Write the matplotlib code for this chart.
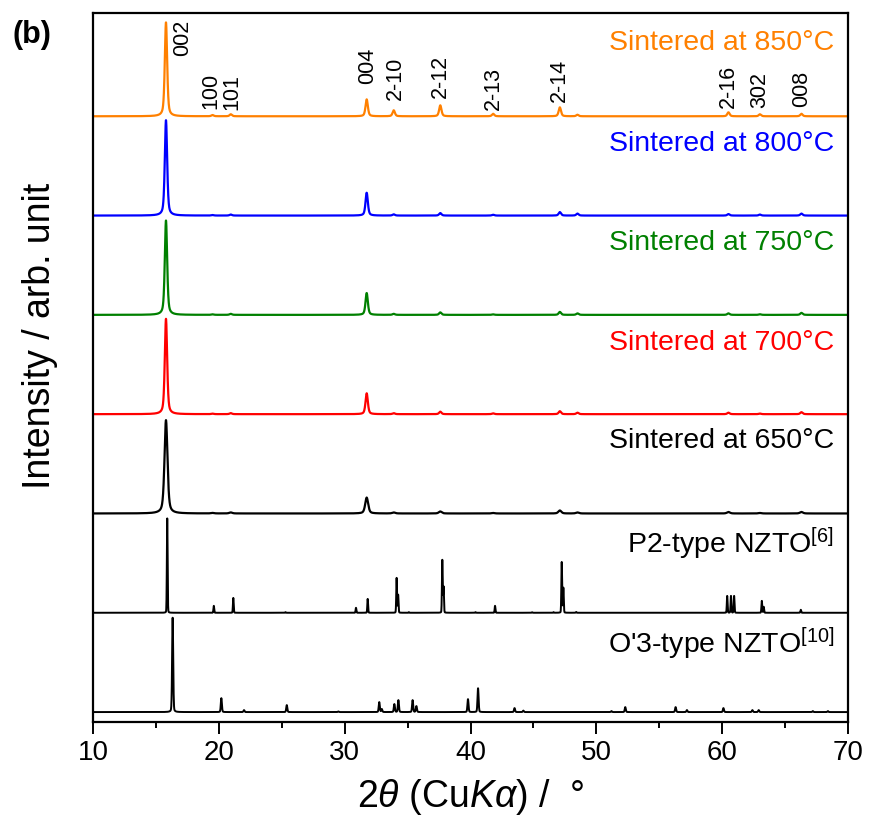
import numpy as np
import matplotlib.pyplot as plt
from matplotlib.ticker import MultipleLocator

plt.rcParams['font.family'] = ['Liberation Sans', 'DejaVu Sans']
plt.rcParams['mathtext.fontset'] = 'custom'
plt.rcParams['mathtext.rm'] = 'Liberation Sans'
plt.rcParams['mathtext.it'] = 'Liberation Sans:italic'

# measured peaks of the sintered samples (2theta, relative height per trace)
pk_pos = [15.8, 19.5, 20.95, 31.75, 33.9, 37.6, 41.8, 47.1, 48.5, 60.5, 63.0, 66.3]
h_850 = [0.945, 0.012, 0.02, 0.17, 0.06, 0.11, 0.025, 0.09, 0.015, 0.04, 0.02, 0.025]
h_800 = [0.96, 0.005, 0.01, 0.23, 0.012, 0.025, 0.008, 0.035, 0.02, 0.015, 0.01, 0.02]
h_750 = [0.95, 0.005, 0.01, 0.22, 0.01, 0.025, 0.005, 0.03, 0.015, 0.015, 0.006, 0.02]
h_700 = [0.96, 0.005, 0.01, 0.21, 0.01, 0.025, 0.008, 0.03, 0.015, 0.015, 0.006, 0.02]
h_650 = [0.94, 0.005, 0.01, 0.16, 0.01, 0.02, 0.005, 0.03, 0.01, 0.015, 0.005, 0.015]

# reference patterns
p2_pos = [15.9, 19.6, 21.15, 25.3, 30.9, 31.83, 34.13, 34.25, 35.1, 37.76, 37.86, 40.4,
          41.95, 44.9, 46.6, 47.25, 47.38, 48.4, 60.4, 60.7, 60.95, 63.15, 63.3, 66.25]
p2_h = [0.95, 0.07, 0.15, 0.006, 0.05, 0.14, 0.35, 0.18, 0.006, 0.53, 0.26, 0.006,
        0.07, 0.005, 0.006, 0.51, 0.25, 0.008, 0.17, 0.17, 0.17, 0.12, 0.06, 0.03]
o3_pos = [16.33, 20.2, 22.0, 25.4, 29.5, 32.75, 32.95, 33.95, 34.27, 35.4, 35.7, 39.8,
          40.6, 43.5, 44.2, 51.2, 52.3, 56.3, 57.2, 60.1, 62.4, 62.9, 67.2, 68.4]
o3_h = [0.95, 0.14, 0.02, 0.07, 0.006, 0.10, 0.03, 0.08, 0.12, 0.12, 0.06, 0.13,
        0.24, 0.04, 0.015, 0.01, 0.05, 0.05, 0.02, 0.04, 0.02, 0.02, 0.01, 0.01]

labels = ["O'3-type NZTO$^{\\mathrm{[10]}}$", 'P2-type NZTO$^{\\mathrm{[6]}}$',
          'Sintered at 650°C', 'Sintered at 700°C', 'Sintered at 750°C',
          'Sintered at 800°C', 'Sintered at 850°C']
colors = ['black', 'black', 'black', '#FF0000', '#008000', '#0000FF', '#FF8000']
label_dy = [0.69, 0.70, 0.73, 0.72, 0.72, 0.72, 0.74]

hkl = ['002', '100', '101', '004', '2-10', '2-12', '2-13', '2-14', '2-16', '302', '008']
hkl_x = [17.15, 19.4, 21.0, 31.8, 34.0, 37.6, 41.8, 47.1, 60.5, 63.0, 66.35]
hkl_y = [6.61, 6.07, 6.06, 6.33, 6.16, 6.18, 6.06, 6.14, 6.08, 6.08, 6.09]

x = np.arange(10, 70.001, 0.01)


def pattern(pos, h, fwhm, eta=0.5):
    y = np.zeros_like(x)
    for p, a in zip(pos, h):
        d = (x - p) / (fwhm / 2)
        y += a * (eta / (1 + d ** 2) + (1 - eta) * np.exp(-np.log(2) * d ** 2))
    return y


traces = [pattern(o3_pos, o3_h, 0.1, 0.2), pattern(p2_pos, p2_h, 0.07, 0.1),
          pattern(pk_pos, h_650, 0.28), pattern(pk_pos, h_700, 0.22),
          pattern(pk_pos, h_750, 0.22), pattern(pk_pos, h_800, 0.22),
          pattern(pk_pos, h_850, 0.22)]

fig = plt.figure(figsize=(8.74, 8.24), dpi=100)
ax = fig.add_axes([93 / 874, 1 - 722 / 824, 755 / 874, 709 / 824])

for i, (tr, lab, c) in enumerate(zip(traces, labels, colors)):
    ax.plot(x, tr + i, color=c, lw=1.6 if i > 1 else 1.4)
    ax.text(68.9, i + label_dy[i], lab, color=c, fontsize=20.5, ha='right', va='center')

for t, px, py in zip(hkl, hkl_x, hkl_y):
    ax.text(px, py, t, rotation=90, fontsize=15.5, ha='center', va='bottom')

ax.set_xlim(10, 70)
ax.set_ylim(-0.1, 7.04)
ax.set_yticks([])
ax.xaxis.set_major_locator(MultipleLocator(10))
ax.xaxis.set_minor_locator(MultipleLocator(5))
ax.tick_params(axis='x', which='major', direction='out', length=8.5, width=1.4,
               labelsize=20, pad=4.5)
ax.tick_params(axis='x', which='minor', direction='out', length=4.5, width=1.4)
for s in ax.spines.values():
    s.set_linewidth(1.6)

ax.set_xlabel('2$\\theta$ (Cu$K\\alpha$) /  °', fontsize=27)
ax.xaxis.set_label_coords(0.5, -0.078)
ax.set_ylabel('Intensity / arb. unit', fontsize=27)
ax.yaxis.set_label_coords(-0.047, 0.545)

fig.text(12 / 874, 1 - 35 / 824, '(b)', fontsize=22, fontweight='bold', va='center')

fig.savefig('out.png', dpi=100)
